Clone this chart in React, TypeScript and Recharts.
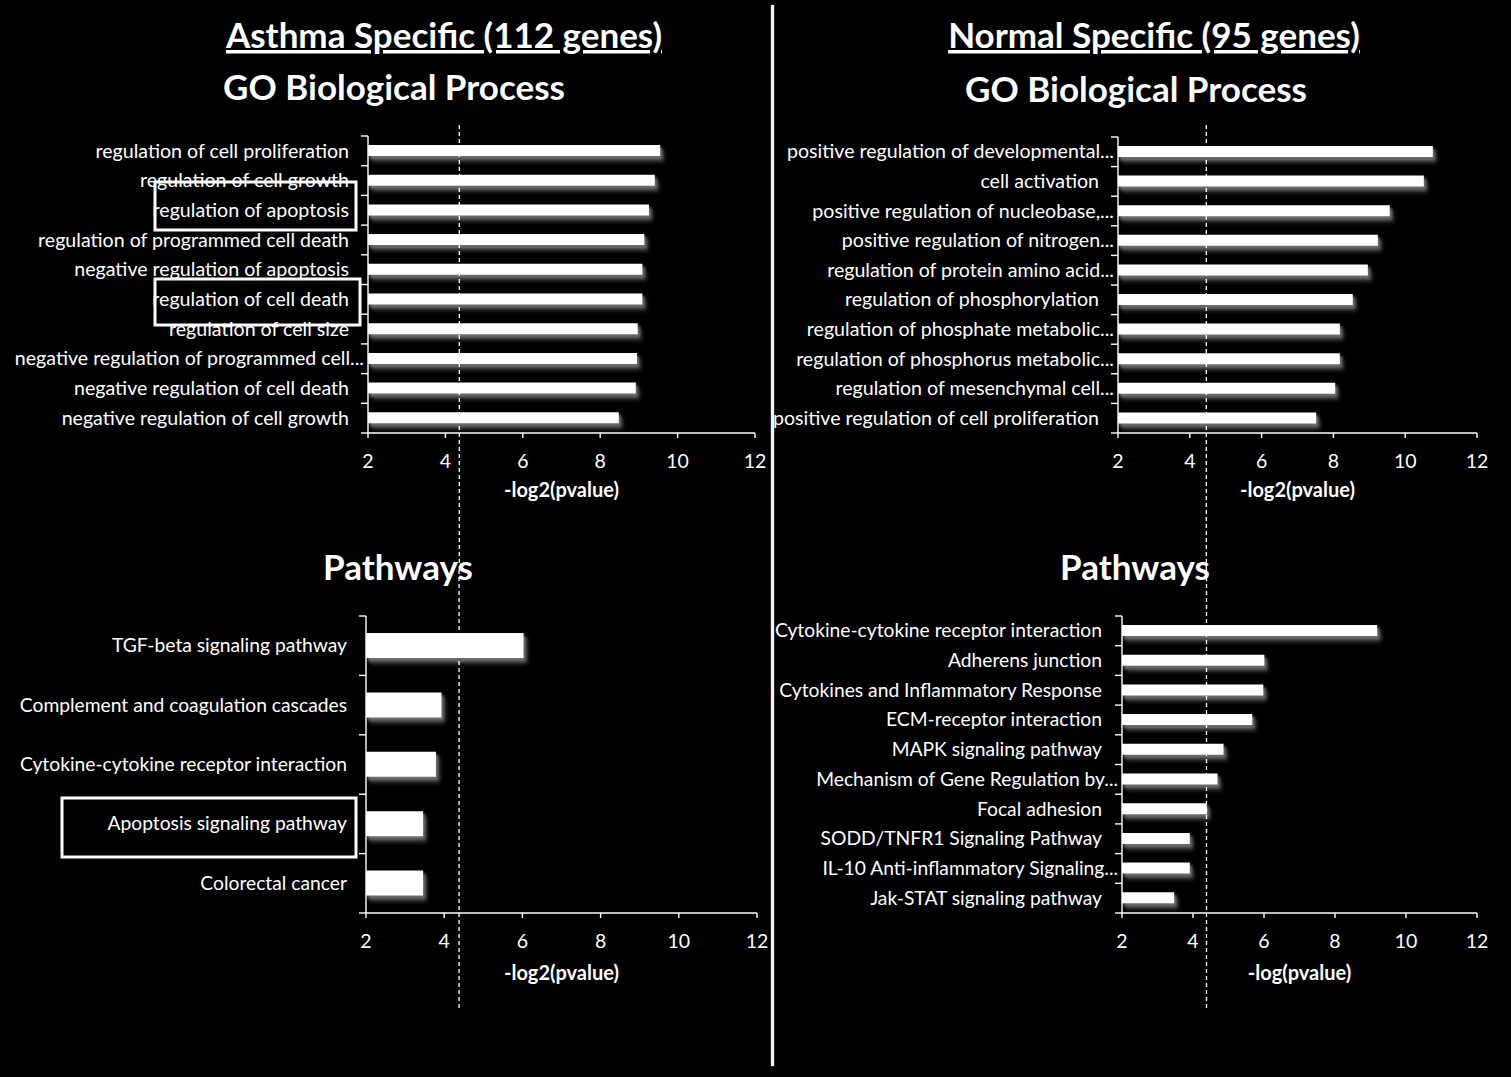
import React from 'react';
import { BarChart, Bar, XAxis, YAxis, ReferenceLine } from 'recharts';

// ---------- data ----------
const asthmaGoLabels = [
  'regulation of cell proliferation',
  'regulation of cell growth',
  'regulation of apoptosis',
  'regulation of programmed cell death',
  'negative regulation of apoptosis',
  'regulation of cell death',
  'regulation of cell size',
  'negative regulation of programmed cell...',
  'negative regulation of cell death',
  'negative regulation of cell growth',
];
const asthmaGoValues = [9.55, 9.41, 9.26, 9.14, 9.09, 9.09, 8.97, 8.95, 8.92, 8.48];

const normalGoLabels = [
  'positive regulation of developmental...',
  'cell activation',
  'positive regulation of nucleobase,...',
  'positive regulation of nitrogen...',
  'regulation of protein amino acid...',
  'regulation of phosphorylation',
  'regulation of phosphate metabolic...',
  'regulation of phosphorus metabolic...',
  'regulation of mesenchymal cell...',
  'positive regulation of cell proliferation',
];
const normalGoValues = [10.77, 10.52, 9.57, 9.24, 8.96, 8.54, 8.18, 8.18, 8.05, 7.52];

const asthmaPathLabels = [
  'TGF-beta signaling pathway',
  'Complement and coagulation cascades',
  'Cytokine-cytokine receptor interaction',
  'Apoptosis signaling pathway',
  'Colorectal cancer',
];
const asthmaPathValues = [6.03, 3.93, 3.79, 3.46, 3.46];

const normalPathLabels = [
  'Cytokine-cytokine receptor interaction',
  'Adherens junction',
  'Cytokines and Inflammatory Response',
  'ECM-receptor interaction',
  'MAPK signaling pathway',
  'Mechanism of Gene Regulation by...',
  'Focal adhesion',
  'SODD/TNFR1 Signaling Pathway',
  'IL-10 Anti-inflammatory Signaling...',
  'Jak-STAT signaling pathway',
];
const normalPathValues = [9.19, 6.01, 5.98, 5.67, 4.86, 4.69, 4.39, 3.91, 3.91, 3.47];

const xTicks = [2, 4, 6, 8, 10, 12];
const xDomain: [number, number] = [2, 12];
const thresholdTL = 4.36;
const thresholdTR = 4.46;
const thresholdBL = 4.38;
const thresholdBR = 4.38;

// ---------- style ----------
const FONT = "Lato, 'Open Sans', sans-serif";

function makeYTick(half: number, total: number, fontSize: number, gapPlain: number) {
  return (props: any) => {
    const { x, y, payload, index } = props;
    const label = String(payload.value);
    const gap = label.endsWith('...') ? 4 : gapPlain;
    return (
      <g>
        <line x1={x - 7} x2={x} y1={y - half} y2={y - half} stroke="#fff" strokeWidth={1.4} />
        {index === total - 1 && (
          <line x1={x - 7} x2={x} y1={y + half} y2={y + half} stroke="#fff" strokeWidth={1.4} />
        )}
        <text
          x={x - gap}
          y={y}
          dy="0.34em"
          textAnchor="end"
          fill="#fff"
          fontSize={fontSize}
          fontFamily={FONT}
        >
          {label}
        </text>
      </g>
    );
  };
}

function dashedShape(extTop: number, extBottom: number) {
  return (props: any) => {
    const top = Math.min(props.y1, props.y2);
    const bottom = Math.max(props.y1, props.y2);
    return (
      <line
        x1={props.x1}
        x2={props.x2}
        y1={top - extTop}
        y2={bottom + extBottom}
        stroke="#fff"
        strokeWidth={1.3}
        strokeDasharray="4 3"
      />
    );
  };
}

type PanelProps = {
  left: number;
  top: number;
  width: number;
  height: number;
  yWidth: number;
  marginTop: number;
  marginRight: number;
  plotH: number;
  labels: string[];
  values: number[];
  barSize: number;
  labelSize: number;
  labelGap: number;
  xLabel: string;
  labelOffset: number;
  refX: number;
  extTop: number;
  extBottom: number;
};

function Panel(p: PanelProps) {
  const data = p.labels.map((name, i) => ({ name, value: p.values[i] }));
  const half = p.plotH / p.labels.length / 2;
  const xHeight = p.height - p.marginTop - p.plotH;
  return (
    <div style={{ position: 'absolute', left: p.left, top: p.top }}>
      <BarChart
        width={p.width}
        height={p.height}
        data={data}
        layout="vertical"
        margin={{ top: p.marginTop, right: p.marginRight, bottom: 0, left: 0 }}
        barCategoryGap={0}
      >
        <XAxis
          type="number"
          domain={xDomain}
          ticks={xTicks}
          interval={0}
          allowDataOverflow
          height={xHeight}
          axisLine={{ stroke: '#fff', strokeWidth: 1.4 }}
          tickLine={{ stroke: '#fff', strokeWidth: 1.4 }}
          tickSize={5}
          tickMargin={16}
          tick={{ fill: '#fff', fontSize: 19.5, fontFamily: FONT }}
          label={{
            value: p.xLabel,
            position: 'insideBottom',
            offset: p.labelOffset,
            fill: '#fff',
            fontSize: 20,
            fontWeight: 700,
            fontFamily: FONT,
          }}
        />
        <YAxis
          type="category"
          dataKey="name"
          width={p.yWidth}
          interval={0}
          tickSize={0}
          tickMargin={0}
          tickLine={false}
          axisLine={{ stroke: '#fff', strokeWidth: 1.4 }}
          tick={makeYTick(half, p.labels.length, p.labelSize, p.labelGap)}
        />
        <Bar
          dataKey="value"
          fill="#fff"
          barSize={p.barSize}
          className="shadowbar"
          isAnimationActive={false}
        />
        <ReferenceLine x={p.refX} shape={dashedShape(p.extTop, p.extBottom)} />
      </BarChart>
    </div>
  );
}

export default function App() {
  return (
    <div
      style={{
        position: 'absolute',
        left: 0,
        top: 0,
        width: 1511,
        height: 1077,
        background: '#000',
        overflow: 'hidden',
        fontFamily: FONT,
      }}
    >
      <style>{`.shadowbar { filter: drop-shadow(2px 3px 1.5px rgba(120,120,120,0.7)); }`}</style>

      {/* Top-left: Asthma GO */}
      <Panel
        left={0}
        top={100}
        width={780}
        height={470}
        yWidth={368}
        marginTop={36}
        marginRight={25}
        plotH={297}
        labels={asthmaGoLabels}
        values={asthmaGoValues}
        barSize={11}
        labelSize={19.6}
        labelGap={19}
        xLabel="-log2(pvalue)"
        labelOffset={73}
        refX={thresholdTL}
        extTop={11}
        extBottom={137}
      />
      {/* Top-right: Normal GO */}
      <Panel
        left={760}
        top={100}
        width={740}
        height={470}
        yWidth={358}
        marginTop={37}
        marginRight={23}
        plotH={296}
        labels={normalGoLabels}
        values={normalGoValues}
        barSize={11}
        labelSize={19.6}
        labelGap={19}
        xLabel="-log2(pvalue)"
        labelOffset={73}
        refX={thresholdTR}
        extTop={12}
        extBottom={137}
      />
      {/* Bottom-left: Asthma pathways */}
      <Panel
        left={0}
        top={560}
        width={780}
        height={460}
        yWidth={366}
        marginTop={56}
        marginRight={23}
        plotH={297}
        labels={asthmaPathLabels}
        values={asthmaPathValues}
        barSize={25}
        labelSize={19.25}
        labelGap={19}
        xLabel="-log2(pvalue)"
        labelOffset={40}
        refX={thresholdBL}
        extTop={46}
        extBottom={97}
      />
      {/* Bottom-right: Normal pathways */}
      <Panel
        left={760}
        top={560}
        width={740}
        height={460}
        yWidth={362}
        marginTop={56}
        marginRight={23}
        plotH={297}
        labels={normalPathLabels}
        values={normalPathValues}
        barSize={11}
        labelSize={19.25}
        labelGap={20}
        xLabel="-log(pvalue)"
        labelOffset={40}
        refX={thresholdBR}
        extTop={46}
        extBottom={97}
      />

      {/* divider */}
      <div
        style={{
          position: 'absolute',
          left: 771,
          top: 5,
          width: 3,
          height: 1061,
          background: '#f4f4f4',
          boxShadow: '0 0 2px rgba(200,200,200,0.8)',
        }}
      />

      {/* titles and highlight boxes */}
      <svg
        width={1511}
        height={1077}
        style={{ position: 'absolute', left: 0, top: 0, pointerEvents: 'none' }}
      >
        <g fill="#fff" fontFamily={FONT} fontWeight={700} fontSize={35} textAnchor="middle">
          <text x={444} y={48} textDecoration="underline">Asthma Specific (112 genes)</text>
          <text x={394} y={100}>GO Biological Process</text>
          <text x={1154} y={48} textDecoration="underline">Normal Specific (95 genes)</text>
          <text x={1136} y={102}>GO Biological Process</text>
          <text x={398} y={580}>Pathways</text>
          <text x={1135} y={580}>Pathways</text>
        </g>
        <g fill="none" stroke="#fff" strokeWidth={3}>
          <rect x={155} y={182} width={201} height={48} />
          <rect x={155} y={279} width={205} height={46} />
          <rect x={62} y={798} width={294} height={59} />
        </g>
      </svg>
    </div>
  );
}
